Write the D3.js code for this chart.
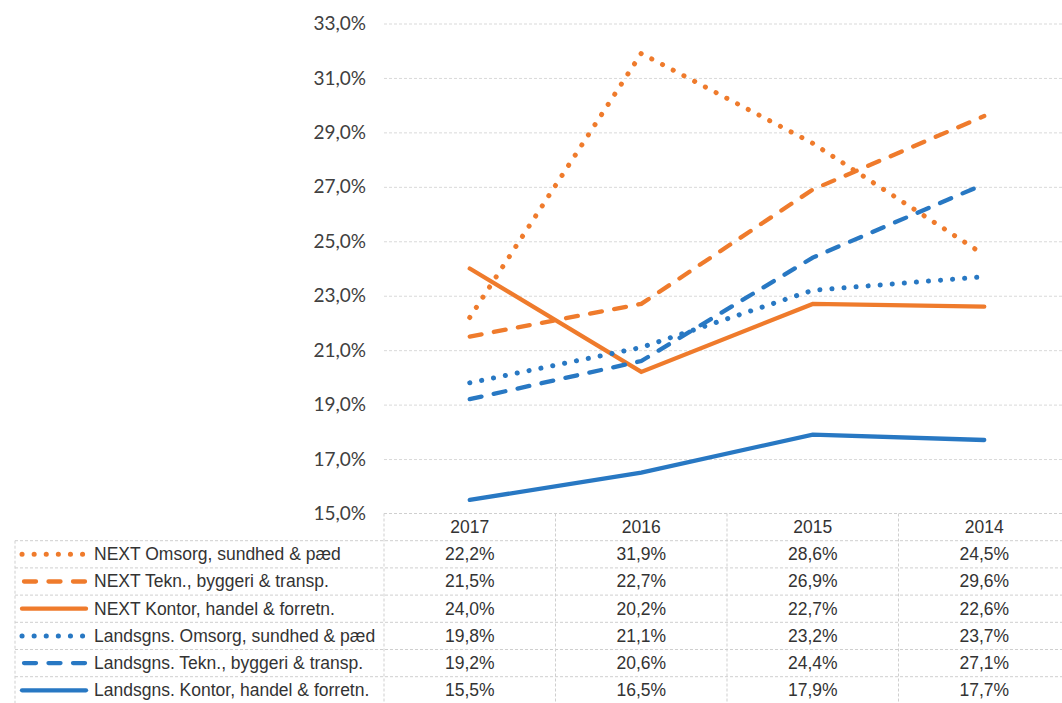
<!DOCTYPE html>
<html>
<head>
<meta charset="utf-8">
<script src="https://cdn.jsdelivr.net/npm/d3@7"></script>
<style>
	body { margin: 0; background: #fff; }
	svg { display: block; }
</style>
</head>
<body>
<div id="chart"></div>
<script>
// data
var years = ["2017", "2016", "2015", "2014"];
var seriesNames = [
	"NEXT Omsorg, sundhed & pæd",
	"NEXT Tekn., byggeri & transp.",
	"NEXT Kontor, handel & forretn.",
	"Landsgns. Omsorg, sundhed & pæd",
	"Landsgns. Tekn., byggeri & transp.",
	"Landsgns. Kontor, handel & forretn."
];
var nextOmsorg = [22.2, 31.9, 28.6, 24.5];
var nextTekn = [21.5, 22.7, 26.9, 29.6];
var nextKontor = [24.0, 20.2, 22.7, 22.6];
var landOmsorg = [19.8, 21.1, 23.2, 23.7];
var landTekn = [19.2, 20.6, 24.4, 27.1];
var landKontor = [15.5, 16.5, 17.9, 17.7];
var yTicks = [15, 17, 19, 21, 23, 25, 27, 29, 31, 33];

var orange = "#ef7b2c", blue = "#2878c3";
var dotted = "0.1 12", dashed = "12 12.5";

var series = [
	{ name: seriesNames[0], values: nextOmsorg, color: orange, dash: dotted },
	{ name: seriesNames[1], values: nextTekn, color: orange, dash: dashed },
	{ name: seriesNames[2], values: nextKontor, color: orange, dash: null },
	{ name: seriesNames[3], values: landOmsorg, color: blue, dash: dotted },
	{ name: seriesNames[4], values: landTekn, color: blue, dash: dashed },
	{ name: seriesNames[5], values: landKontor, color: blue, dash: null }
];

var width = 1062, height = 703;
var plotLeft = 384, plotRight = 1070, plotTop = 23.5, plotBottom = 513.5;
var rowH = 27.2, legendLeft = 15;

var svg = d3.select("#chart").append("svg")
	.attr("width", width)
	.attr("height", height);

var x = d3.scaleBand().domain(years).range([plotLeft, plotRight]);
var y = d3.scaleLinear().domain([15, 33]).range([plotBottom, plotTop]);
var fmt = function (v) { return d3.format(".1f")(v).replace(".", ",") + "%"; };

// gridlines + y labels
var yAxis = svg.append("g")
	.attr("transform", "translate(" + plotLeft + ",0)")
	.call(d3.axisLeft(y).tickValues(yTicks).tickFormat(fmt)
		.tickSize(-(plotRight - plotLeft)).tickPadding(18));
yAxis.select(".domain").remove();
yAxis.selectAll(".tick line")
	.attr("stroke", "#d9d9d9")
	.attr("stroke-dasharray", "3 2");
yAxis.selectAll(".tick line").filter(function (d) { return d === 15; }).remove();
yAxis.selectAll("text")
	.attr("font-family", "Lato, 'Open Sans', sans-serif")
	.attr("font-size", 19)
	.attr("fill", "#404040");

// lines
var line = d3.line()
	.x(function (d, i) { return x(years[i]) + x.bandwidth() / 2; })
	.y(function (d) { return y(d); });

svg.append("g").selectAll("path")
	.data(series)
	.enter().append("path")
	.attr("d", function (d) { return line(d.values); })
	.attr("fill", "none")
	.attr("stroke", function (d) { return d.color; })
	.attr("stroke-width", function (d) { return d.dash === dotted ? 5 : 4.3; })
	.attr("stroke-linecap", "round")
	.attr("stroke-linejoin", "miter")
	.attr("stroke-dasharray", function (d) { return d.dash; });

// data table
var table = svg.append("g")
	.attr("font-family", "'Liberation Sans', Arial, sans-serif")
	.attr("font-size", 17.5)
	.attr("fill", "#333");
var gridColor = "#cfcfcf";

// horizontal rules
var rows = d3.range(series.length + 2);
table.selectAll(".hrule")
	.data(rows)
	.enter().append("line")
	.attr("x1", function (d) { return d < 1 ? plotLeft : legendLeft; })
	.attr("x2", width)
	.attr("y1", function (d) { return plotBottom + d * rowH; })
	.attr("y2", function (d) { return plotBottom + d * rowH; })
	.attr("stroke", gridColor)
	.attr("stroke-dasharray", "3 2");

// vertical rules
table.selectAll(".vrule")
	.data(years)
	.enter().append("line")
	.attr("x1", function (d) { return x(d); })
	.attr("x2", function (d) { return x(d); })
	.attr("y1", plotBottom)
	.attr("y2", height)
	.attr("stroke", gridColor)
	.attr("stroke-dasharray", "3 2");
table.append("line")
	.attr("x1", legendLeft).attr("x2", legendLeft)
	.attr("y1", plotBottom + rowH).attr("y2", height)
	.attr("stroke", gridColor)
	.attr("stroke-dasharray", "3 2");

// header
table.selectAll(".year")
	.data(years)
	.enter().append("text")
	.attr("x", function (d) { return x(d) + x.bandwidth() / 2; })
	.attr("y", plotBottom + rowH / 2 + 6)
	.attr("text-anchor", "middle")
	.text(function (d) { return d; });

// rows
var row = table.selectAll(".row")
	.data(series)
	.enter().append("g")
	.attr("transform", function (d, i) {
		return "translate(0," + (plotBottom + (i + 1) * rowH) + ")";
	});

row.selectAll("text.val")
	.data(function (d) { return d.values; })
	.enter().append("text")
	.attr("x", function (d, i) { return x(years[i]) + x.bandwidth() / 2; })
	.attr("y", rowH / 2 + 6)
	.attr("text-anchor", "middle")
	.text(function (d) { return fmt(d); });

// legend keys
row.append("line")
	.attr("x1", function (d) { return d.dash === dashed ? 24 : 22; })
	.attr("x2", 86)
	.attr("y1", rowH / 2)
	.attr("y2", rowH / 2)
	.attr("stroke", function (d) { return d.color; })
	.attr("stroke-width", function (d) { return d.dash === dotted ? 5 : 4.3; })
	.attr("stroke-linecap", "round")
	.attr("stroke-dasharray", function (d) { return d.dash; });

row.append("text")
	.attr("x", 94)
	.attr("y", rowH / 2 + 6)
	.text(function (d) { return d.name; });
</script>
</body>
</html>
